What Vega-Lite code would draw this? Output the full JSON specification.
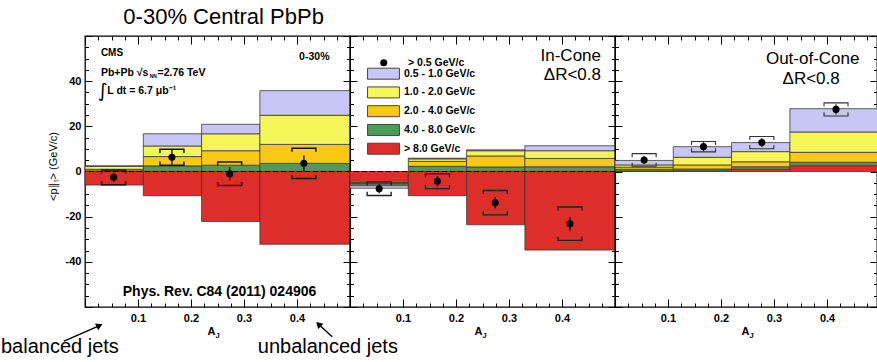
{
  "$schema": "https://vega.github.io/schema/vega-lite/v6.json",
  "background": "white",
  "padding": {"left": 0, "top": 6, "right": 0, "bottom": 0},
  "title": {"text": "0-30% Central PbPb", "anchor": "start", "frame": "bounds", "dx": 123, "offset": 0, "fontSize": 22, "fontWeight": "normal", "font": "Liberation Sans", "color": "black"},
  "config": {
    "font": "Liberation Sans",
    "view": {"stroke": "black", "strokeWidth": 1.3},
    "axis": {"domain": false, "grid": false, "tickColor": "black", "tickWidth": 1, "labelFont": "Liberation Sans", "labelFontSize": 11, "labelFontWeight": "bold", "labelColor": "black", "titleColor": "black", "labelOverlap": false, "labelFlush": false}
  },
  "datasets": {
    "hist": [
      {"panel": "all", "bin": 1, "lo": 0, "hi": 0.11, "comp": "> 8.0 GeV/c", "val": -6.0},
      {"panel": "all", "bin": 1, "lo": 0, "hi": 0.11, "comp": "4.0 - 8.0 GeV/c", "val": 0.3},
      {"panel": "all", "bin": 1, "lo": 0, "hi": 0.11, "comp": "2.0 - 4.0 GeV/c", "val": 0.7},
      {"panel": "all", "bin": 1, "lo": 0, "hi": 0.11, "comp": "1.0 - 2.0 GeV/c", "val": 1.3},
      {"panel": "all", "bin": 1, "lo": 0, "hi": 0.11, "comp": "0.5 - 1.0 GeV/c", "val": 0.2},
      {"panel": "all", "bin": 2, "lo": 0.11, "hi": 0.22, "comp": "> 8.0 GeV/c", "val": -10.7},
      {"panel": "all", "bin": 2, "lo": 0.11, "hi": 0.22, "comp": "4.0 - 8.0 GeV/c", "val": 2.5},
      {"panel": "all", "bin": 2, "lo": 0.11, "hi": 0.22, "comp": "2.0 - 4.0 GeV/c", "val": 4.1},
      {"panel": "all", "bin": 2, "lo": 0.11, "hi": 0.22, "comp": "1.0 - 2.0 GeV/c", "val": 4.7},
      {"panel": "all", "bin": 2, "lo": 0.11, "hi": 0.22, "comp": "0.5 - 1.0 GeV/c", "val": 5.4},
      {"panel": "all", "bin": 3, "lo": 0.22, "hi": 0.33, "comp": "> 8.0 GeV/c", "val": -22.1},
      {"panel": "all", "bin": 3, "lo": 0.22, "hi": 0.33, "comp": "4.0 - 8.0 GeV/c", "val": 2.8},
      {"panel": "all", "bin": 3, "lo": 0.22, "hi": 0.33, "comp": "2.0 - 4.0 GeV/c", "val": 6.4},
      {"panel": "all", "bin": 3, "lo": 0.22, "hi": 0.33, "comp": "1.0 - 2.0 GeV/c", "val": 7.5},
      {"panel": "all", "bin": 3, "lo": 0.22, "hi": 0.33, "comp": "0.5 - 1.0 GeV/c", "val": 4.2},
      {"panel": "all", "bin": 4, "lo": 0.33, "hi": 0.5, "comp": "> 8.0 GeV/c", "val": -32.2},
      {"panel": "all", "bin": 4, "lo": 0.33, "hi": 0.5, "comp": "4.0 - 8.0 GeV/c", "val": 3.6},
      {"panel": "all", "bin": 4, "lo": 0.33, "hi": 0.5, "comp": "2.0 - 4.0 GeV/c", "val": 8.4},
      {"panel": "all", "bin": 4, "lo": 0.33, "hi": 0.5, "comp": "1.0 - 2.0 GeV/c", "val": 12.9},
      {"panel": "all", "bin": 4, "lo": 0.33, "hi": 0.5, "comp": "0.5 - 1.0 GeV/c", "val": 10.9},
      {"panel": "in", "bin": 1, "lo": 0, "hi": 0.11, "comp": "> 8.0 GeV/c", "val": -5.0},
      {"panel": "in", "bin": 1, "lo": 0, "hi": 0.11, "comp": "4.0 - 8.0 GeV/c", "val": -0.4},
      {"panel": "in", "bin": 1, "lo": 0, "hi": 0.11, "comp": "2.0 - 4.0 GeV/c", "val": -0.3},
      {"panel": "in", "bin": 1, "lo": 0, "hi": 0.11, "comp": "1.0 - 2.0 GeV/c", "val": -0.6},
      {"panel": "in", "bin": 1, "lo": 0, "hi": 0.11, "comp": "0.5 - 1.0 GeV/c", "val": -1.1},
      {"panel": "in", "bin": 2, "lo": 0.11, "hi": 0.22, "comp": "> 8.0 GeV/c", "val": -10.7},
      {"panel": "in", "bin": 2, "lo": 0.11, "hi": 0.22, "comp": "4.0 - 8.0 GeV/c", "val": 2.3},
      {"panel": "in", "bin": 2, "lo": 0.11, "hi": 0.22, "comp": "2.0 - 4.0 GeV/c", "val": 2.2},
      {"panel": "in", "bin": 2, "lo": 0.11, "hi": 0.22, "comp": "1.0 - 2.0 GeV/c", "val": 1.1},
      {"panel": "in", "bin": 2, "lo": 0.11, "hi": 0.22, "comp": "0.5 - 1.0 GeV/c", "val": 0.3},
      {"panel": "in", "bin": 3, "lo": 0.22, "hi": 0.33, "comp": "> 8.0 GeV/c", "val": -23.6},
      {"panel": "in", "bin": 3, "lo": 0.22, "hi": 0.33, "comp": "4.0 - 8.0 GeV/c", "val": 2.0},
      {"panel": "in", "bin": 3, "lo": 0.22, "hi": 0.33, "comp": "2.0 - 4.0 GeV/c", "val": 4.9},
      {"panel": "in", "bin": 3, "lo": 0.22, "hi": 0.33, "comp": "1.0 - 2.0 GeV/c", "val": 2.3},
      {"panel": "in", "bin": 3, "lo": 0.22, "hi": 0.33, "comp": "0.5 - 1.0 GeV/c", "val": 0.4},
      {"panel": "in", "bin": 4, "lo": 0.33, "hi": 0.5, "comp": "> 8.0 GeV/c", "val": -34.8},
      {"panel": "in", "bin": 4, "lo": 0.33, "hi": 0.5, "comp": "4.0 - 8.0 GeV/c", "val": 2.1},
      {"panel": "in", "bin": 4, "lo": 0.33, "hi": 0.5, "comp": "2.0 - 4.0 GeV/c", "val": 3.7},
      {"panel": "in", "bin": 4, "lo": 0.33, "hi": 0.5, "comp": "1.0 - 2.0 GeV/c", "val": 3.4},
      {"panel": "in", "bin": 4, "lo": 0.33, "hi": 0.5, "comp": "0.5 - 1.0 GeV/c", "val": 2.2},
      {"panel": "out", "bin": 1, "lo": 0, "hi": 0.11, "comp": "> 8.0 GeV/c", "val": 0.2},
      {"panel": "out", "bin": 1, "lo": 0, "hi": 0.11, "comp": "4.0 - 8.0 GeV/c", "val": 0.8},
      {"panel": "out", "bin": 1, "lo": 0, "hi": 0.11, "comp": "2.0 - 4.0 GeV/c", "val": 0.9},
      {"panel": "out", "bin": 1, "lo": 0, "hi": 0.11, "comp": "1.0 - 2.0 GeV/c", "val": 1.0},
      {"panel": "out", "bin": 1, "lo": 0, "hi": 0.11, "comp": "0.5 - 1.0 GeV/c", "val": 2.0},
      {"panel": "out", "bin": 2, "lo": 0.11, "hi": 0.22, "comp": "> 8.0 GeV/c", "val": 0.3},
      {"panel": "out", "bin": 2, "lo": 0.11, "hi": 0.22, "comp": "4.0 - 8.0 GeV/c", "val": 0.8},
      {"panel": "out", "bin": 2, "lo": 0.11, "hi": 0.22, "comp": "2.0 - 4.0 GeV/c", "val": 1.8},
      {"panel": "out", "bin": 2, "lo": 0.11, "hi": 0.22, "comp": "1.0 - 2.0 GeV/c", "val": 3.4},
      {"panel": "out", "bin": 2, "lo": 0.11, "hi": 0.22, "comp": "0.5 - 1.0 GeV/c", "val": 4.7},
      {"panel": "out", "bin": 3, "lo": 0.22, "hi": 0.33, "comp": "> 8.0 GeV/c", "val": 1.0},
      {"panel": "out", "bin": 3, "lo": 0.22, "hi": 0.33, "comp": "4.0 - 8.0 GeV/c", "val": 1.1},
      {"panel": "out", "bin": 3, "lo": 0.22, "hi": 0.33, "comp": "2.0 - 4.0 GeV/c", "val": 2.2},
      {"panel": "out", "bin": 3, "lo": 0.22, "hi": 0.33, "comp": "1.0 - 2.0 GeV/c", "val": 4.5},
      {"panel": "out", "bin": 3, "lo": 0.22, "hi": 0.33, "comp": "0.5 - 1.0 GeV/c", "val": 4.0},
      {"panel": "out", "bin": 4, "lo": 0.33, "hi": 0.5, "comp": "> 8.0 GeV/c", "val": 2.6},
      {"panel": "out", "bin": 4, "lo": 0.33, "hi": 0.5, "comp": "4.0 - 8.0 GeV/c", "val": 1.5},
      {"panel": "out", "bin": 4, "lo": 0.33, "hi": 0.5, "comp": "2.0 - 4.0 GeV/c", "val": 4.4},
      {"panel": "out", "bin": 4, "lo": 0.33, "hi": 0.5, "comp": "1.0 - 2.0 GeV/c", "val": 9.0},
      {"panel": "out", "bin": 4, "lo": 0.33, "hi": 0.5, "comp": "0.5 - 1.0 GeV/c", "val": 10.3}
    ],
    "pts": [
      {"panel": "all", "aj": 0.054, "val": -2.6, "stat": 2.0, "syslo": -5.9, "syshi": 0.7},
      {"panel": "all", "aj": 0.164, "val": 6.3, "stat": 3.3, "syslo": 2.8, "syshi": 9.8},
      {"panel": "all", "aj": 0.273, "val": -1.0, "stat": 3.0, "syslo": -6.2, "syshi": 4.2},
      {"panel": "all", "aj": 0.413, "val": 3.6, "stat": 3.5, "syslo": -3.1, "syshi": 10.3},
      {"panel": "in", "aj": 0.055, "val": -7.6, "stat": 2.0, "syslo": -10.6, "syshi": -4.6},
      {"panel": "in", "aj": 0.165, "val": -4.3, "stat": 2.2, "syslo": -7.6, "syshi": -1.0},
      {"panel": "in", "aj": 0.274, "val": -13.8, "stat": 2.5, "syslo": -19.2, "syshi": -8.4},
      {"panel": "in", "aj": 0.415, "val": -23.1, "stat": 3.0, "syslo": -30.5, "syshi": -15.7},
      {"panel": "out", "aj": 0.055, "val": 5.1, "stat": 1.8, "syslo": 2.3, "syshi": 7.9},
      {"panel": "out", "aj": 0.167, "val": 11.0, "stat": 2.0, "syslo": 8.7, "syshi": 13.3},
      {"panel": "out", "aj": 0.277, "val": 12.8, "stat": 2.0, "syslo": 10.1, "syshi": 15.5},
      {"panel": "out", "aj": 0.417, "val": 27.5, "stat": 2.3, "syslo": 24.6, "syshi": 30.4}
    ]
  },
  "spacing": 0,
  "bounds": "flush",
  "resolve": {"scale": {"color": "independent", "shape": "independent"}},
  "hconcat": [
    {
      "width": 265,
      "height": 271,
      "resolve": {"axis": {"x": "independent", "y": "independent"}},
      "layer": [
        {
          "data": {"name": "hist"},
          "transform": [
            {"filter": "datum.panel == 'all'"},
            {"stack": "val", "groupby": ["bin"], "sort": [{"field": "comp", "order": "descending"}], "as": ["v0", "v1"]}
          ],
          "mark": {"type": "bar", "stroke": "#3a3a3a", "strokeWidth": 0.8},
          "encoding": {
            "x": {"field": "lo", "type": "quantitative", "scale": {"domain": [0, 0.5], "nice": false, "zero": false},
              "axis": {"orient": "bottom", "values": [0,0.025,0.05,0.075,0.1,0.125,0.15,0.175,0.2,0.225,0.25,0.275,0.3,0.325,0.35,0.375,0.4,0.425,0.45,0.475,0.5],
                "tickSize": {"condition": {"test": "abs(datum.value*10 - round(datum.value*10)) < 0.001", "value": -8}, "value": -4},
                "labelExpr": "(abs(datum.value*10 - round(datum.value*10)) < 0.001 && datum.value > 0.05 && datum.value < 0.45) ? format(datum.value, '.1f') : ''",
                "labelPadding": 13, "title": "A", "titleFontSize": 11, "titleFontWeight": "bold", "titleX": 126, "titleY": 24, "titleBaseline": "middle", "titleAlign": "center"}},
            "x2": {"field": "hi"},
            "y": {"field": "v0", "type": "quantitative", "scale": {"domain": [-60, 60], "nice": false, "zero": false},
              "axis": {"orient": "left", "values": [-60,-55,-50,-45,-40,-35,-30,-25,-20,-15,-10,-5,0,5,10,15,20,25,30,35,40,45,50,55,60],
                "tickSize": {"condition": {"test": "datum.value % 20 == 0", "value": -7}, "value": -3.5},
                "labelExpr": "(datum.value % 20 == 0 && abs(datum.value) < 60) ? '' + datum.value : ''",
                "labelPadding": 11, "title": "<p∥ₜ> (GeV/c)", "titleFontSize": 11, "titleFontWeight": "normal", "titleX": -32, "titleY": 130, "titleAngle": 270, "titleBaseline": "middle", "titleAlign": "center"}},
            "y2": {"field": "v1"},
            "color": {"field": "comp", "type": "nominal",
              "scale": {"domain": ["0.5 - 1.0 GeV/c", "1.0 - 2.0 GeV/c", "2.0 - 4.0 GeV/c", "4.0 - 8.0 GeV/c", "> 8.0 GeV/c"], "range": ["#c8c6f4", "#f6f65a", "#fbc814", "#4c9a5c", "#de2e29"]},
              "legend": null}
          }
        },
        {
          "data": {"values": [{}]},
          "mark": {"type": "rule", "color": "black", "strokeWidth": 1.2, "strokeDash": [5, 3]},
          "encoding": {"y": {"datum": 0, "type": "quantitative", "axis": null}}
        },
        {
          "data": {"name": "pts"},
          "transform": [{"filter": "datum.panel == 'all'"}],
          "mark": {"type": "errorbar", "color": "black", "thickness": 1.3},
          "encoding": {
            "x": {"field": "aj", "type": "quantitative", "axis": null},
            "y": {"field": "val", "type": "quantitative", "axis": null},
            "yError": {"field": "stat"}
          }
        },
        {
          "data": {"name": "pts"},
          "transform": [{"filter": "datum.panel == 'all'"}],
          "mark": {"type": "point", "filled": true, "size": 50, "color": "black", "opacity": 1},
          "encoding": {
            "x": {"field": "aj", "type": "quantitative", "scale": {"domain": [0, 0.5], "nice": false, "zero": false},
              "axis": {"orient": "top", "values": [0,0.025,0.05,0.075,0.1,0.125,0.15,0.175,0.2,0.225,0.25,0.275,0.3,0.325,0.35,0.375,0.4,0.425,0.45,0.475,0.5],
                "tickSize": {"condition": {"test": "abs(datum.value*10 - round(datum.value*10)) < 0.001", "value": -8}, "value": -4},
                "labels": false, "title": null}},
            "y": {"field": "val", "type": "quantitative", "scale": {"domain": [-60, 60], "nice": false, "zero": false},
              "axis": {"orient": "right", "values": [-60,-55,-50,-45,-40,-35,-30,-25,-20,-15,-10,-5,0,5,10,15,20,25,30,35,40,45,50,55,60],
                "tickSize": {"condition": {"test": "datum.value % 20 == 0", "value": -7}, "value": -3.5},
                "labels": false, "title": null}}
          }
        },
        {
          "data": {"name": "pts"},
          "transform": [{"filter": "datum.panel == 'all'"}],
          "mark": {"type": "point", "shape": "M-1,0.3V0H1V0.3", "filled": false, "size": 576, "color": "#111", "strokeWidth": 1.5, "opacity": 1},
          "encoding": {
            "x": {"field": "aj", "type": "quantitative", "axis": {"orient": "bottom", "ticks": false, "labels": false, "title": "J", "titleFontSize": 7.5, "titleFontWeight": "bold", "titleX": 132, "titleY": 28, "titleBaseline": "middle", "titleAlign": "center"}},
            "y": {"field": "syshi", "type": "quantitative", "axis": null}
          }
        },
        {
          "data": {"name": "pts"},
          "transform": [{"filter": "datum.panel == 'all'"}],
          "mark": {"type": "point", "shape": "M-1,-0.3V0H1V-0.3", "filled": false, "size": 576, "color": "#111", "strokeWidth": 1.5, "opacity": 1},
          "encoding": {
            "x": {"field": "aj", "type": "quantitative", "axis": null},
            "y": {"field": "syslo", "type": "quantitative", "axis": null}
          }
        },
        {
          "data": {"values": [{}]},
          "mark": {"type": "text", "text": "CMS", "align": "left", "baseline": "middle", "fontSize": 10, "fontWeight": "bold"},
          "encoding": {"x": {"datum": 0.03, "type": "quantitative", "axis": null}, "y": {"datum": 52.3, "type": "quantitative", "axis": null}}
        },
        {
          "data": {"values": [{}]},
          "mark": {"type": "text", "text": "0-30%", "align": "left", "baseline": "middle", "fontSize": 10.5, "fontWeight": "bold"},
          "encoding": {"x": {"datum": 0.404, "type": "quantitative", "axis": null}, "y": {"datum": 50.6, "type": "quantitative", "axis": null}}
        },
        {
          "data": {"values": [{}]},
          "mark": {"type": "text", "text": "Pb+Pb √s", "align": "left", "baseline": "middle", "fontSize": 10.5, "fontWeight": "bold"},
          "encoding": {"x": {"datum": 0.03, "type": "quantitative", "axis": null}, "y": {"datum": 43.75, "type": "quantitative", "axis": null}}
        },
        {
          "data": {"values": [{}]},
          "mark": {"type": "text", "text": "NN", "align": "left", "baseline": "middle", "fontSize": 5, "fontWeight": "bold", "dy": 3},
          "encoding": {"x": {"datum": 0.122, "type": "quantitative", "axis": null}, "y": {"datum": 43.75, "type": "quantitative", "axis": null}}
        },
        {
          "data": {"values": [{}]},
          "mark": {"type": "text", "text": "=2.76 TeV", "align": "left", "baseline": "middle", "fontSize": 10.5, "fontWeight": "bold"},
          "encoding": {"x": {"datum": 0.1368, "type": "quantitative", "axis": null}, "y": {"datum": 43.75, "type": "quantitative", "axis": null}}
        },
        {
          "data": {"values": [{}]},
          "mark": {"type": "text", "text": "∫", "align": "left", "baseline": "middle", "fontSize": 19, "font": "DejaVu Sans"},
          "encoding": {"x": {"datum": 0.024, "type": "quantitative", "axis": null}, "y": {"datum": 35.8, "type": "quantitative", "axis": null}}
        },
        {
          "data": {"values": [{}]},
          "mark": {"type": "text", "text": "L dt = 6.7 μb⁻¹", "align": "left", "baseline": "middle", "fontSize": 10.5, "fontWeight": "bold"},
          "encoding": {"x": {"datum": 0.042, "type": "quantitative", "axis": null}, "y": {"datum": 35.8, "type": "quantitative", "axis": null}}
        },
        {
          "data": {"values": [{}]},
          "mark": {"type": "text", "text": "Phys. Rev. C84 (2011) 024906", "align": "center", "baseline": "middle", "fontSize": 14, "fontWeight": "bold"},
          "encoding": {"x": {"datum": 0.2538, "type": "quantitative", "axis": null}, "y": {"datum": -53.2, "type": "quantitative", "axis": null}}
        },
        {
          "data": {"values": [{}]},
          "mark": {"type": "text", "text": "balanced jets", "align": "left", "baseline": "alphabetic", "fontSize": 20},
          "encoding": {"x": {"datum": -0.1585, "type": "quantitative", "axis": null}, "y": {"datum": -80.5, "type": "quantitative", "axis": null}}
        },
        {
          "data": {"values": [{}]},
          "mark": {"type": "text", "text": "unbalanced jets", "align": "left", "baseline": "alphabetic", "fontSize": 20},
          "encoding": {"x": {"datum": 0.326, "type": "quantitative", "axis": null}, "y": {"datum": -80.5, "type": "quantitative", "axis": null}}
        },
        {
          "data": {"values": [{}]},
          "mark": {"type": "rule", "color": "black", "strokeWidth": 1.4},
          "encoding": {"x": {"datum": -0.0396, "type": "quantitative", "axis": null}, "y": {"datum": -75.1, "type": "quantitative", "axis": null}, "x2": {"datum": 0.0274}, "y2": {"datum": -68.2}}
        },
        {
          "data": {"values": [{}]},
          "mark": {"type": "point", "shape": "triangle-up", "filled": true, "size": 55, "color": "black", "opacity": 1, "angle": 66},
          "encoding": {"x": {"datum": 0.0274, "type": "quantitative", "axis": null}, "y": {"datum": -68.2, "type": "quantitative", "axis": null}}
        },
        {
          "data": {"values": [{}]},
          "mark": {"type": "rule", "color": "black", "strokeWidth": 1.4},
          "encoding": {"x": {"datum": 0.4664, "type": "quantitative", "axis": null}, "y": {"datum": -73.2, "type": "quantitative", "axis": null}, "x2": {"datum": 0.4406}, "y2": {"datum": -67.6}}
        },
        {
          "data": {"values": [{}]},
          "mark": {"type": "point", "shape": "triangle-up", "filled": true, "size": 55, "color": "black", "opacity": 1, "angle": 315},
          "encoding": {"x": {"datum": 0.4406, "type": "quantitative", "axis": null}, "y": {"datum": -67.6, "type": "quantitative", "axis": null}}
        }
      ]
    },
    {
      "width": 265,
      "height": 271,
      "resolve": {"axis": {"x": "independent", "y": "independent"}},
      "layer": [
        {
          "data": {"name": "hist"},
          "transform": [
            {"filter": "datum.panel == 'in'"},
            {"stack": "val", "groupby": ["bin"], "sort": [{"field": "comp", "order": "descending"}], "as": ["v0", "v1"]}
          ],
          "mark": {"type": "bar", "stroke": "#3a3a3a", "strokeWidth": 0.8},
          "encoding": {
            "x": {"field": "lo", "type": "quantitative", "scale": {"domain": [0, 0.5], "nice": false, "zero": false},
              "axis": {"orient": "bottom", "values": [0,0.025,0.05,0.075,0.1,0.125,0.15,0.175,0.2,0.225,0.25,0.275,0.3,0.325,0.35,0.375,0.4,0.425,0.45,0.475,0.5],
                "tickSize": {"condition": {"test": "abs(datum.value*10 - round(datum.value*10)) < 0.001", "value": -8}, "value": -4},
                "labelExpr": "(abs(datum.value*10 - round(datum.value*10)) < 0.001 && datum.value > 0.05 && datum.value < 0.45) ? format(datum.value, '.1f') : ''",
                "labelPadding": 13, "title": "A", "titleFontSize": 11, "titleFontWeight": "bold", "titleX": 128, "titleY": 24, "titleBaseline": "middle", "titleAlign": "center"}},
            "x2": {"field": "hi"},
            "y": {"field": "v0", "type": "quantitative", "scale": {"domain": [-60, 60], "nice": false, "zero": false},
              "axis": {"orient": "left", "values": [-60,-55,-50,-45,-40,-35,-30,-25,-20,-15,-10,-5,0,5,10,15,20,25,30,35,40,45,50,55,60],
                "tickSize": {"condition": {"test": "datum.value % 20 == 0", "value": -7}, "value": -3.5},
                "labels": false, "title": null}},
            "y2": {"field": "v1"},
            "color": {"field": "comp", "type": "nominal",
              "scale": {"domain": ["0.5 - 1.0 GeV/c", "1.0 - 2.0 GeV/c", "2.0 - 4.0 GeV/c", "4.0 - 8.0 GeV/c", "> 8.0 GeV/c"], "range": ["#c8c6f4", "#f6f65a", "#fbc814", "#4c9a5c", "#de2e29"]},
              "legend": {"orient": "none", "legendX": 27.5, "legendY": 31.7, "title": null, "padding": 0,
                "symbolType": "M-2.9,-1H2.9V1H-2.9Z", "symbolSize": 121, "symbolStrokeColor": "#444", "symbolStrokeWidth": 1, "symbolOpacity": 1,
                "labelFont": "Liberation Sans", "labelFontSize": 10.5, "labelFontWeight": "bold", "labelColor": "black", "labelOffset": 14.5, "rowPadding": 2.75}}
          }
        },
        {
          "data": {"values": [{}]},
          "mark": {"type": "rule", "color": "black", "strokeWidth": 1.2, "strokeDash": [5, 3]},
          "encoding": {"y": {"datum": 0, "type": "quantitative", "axis": null}}
        },
        {
          "data": {"name": "pts"},
          "transform": [{"filter": "datum.panel == 'in'"}],
          "mark": {"type": "errorbar", "color": "black", "thickness": 1.3},
          "encoding": {
            "x": {"field": "aj", "type": "quantitative", "axis": null},
            "y": {"field": "val", "type": "quantitative", "axis": null},
            "yError": {"field": "stat"}
          }
        },
        {
          "data": {"name": "pts"},
          "transform": [{"filter": "datum.panel == 'in'"}],
          "mark": {"type": "point", "filled": true, "size": 50, "color": "black", "opacity": 1},
          "encoding": {
            "x": {"field": "aj", "type": "quantitative", "scale": {"domain": [0, 0.5], "nice": false, "zero": false},
              "axis": {"orient": "top", "values": [0,0.025,0.05,0.075,0.1,0.125,0.15,0.175,0.2,0.225,0.25,0.275,0.3,0.325,0.35,0.375,0.4,0.425,0.45,0.475,0.5],
                "tickSize": {"condition": {"test": "abs(datum.value*10 - round(datum.value*10)) < 0.001", "value": -8}, "value": -4},
                "labels": false, "title": null}},
            "y": {"field": "val", "type": "quantitative", "scale": {"domain": [-60, 60], "nice": false, "zero": false},
              "axis": {"orient": "right", "values": [-60,-55,-50,-45,-40,-35,-30,-25,-20,-15,-10,-5,0,5,10,15,20,25,30,35,40,45,50,55,60],
                "tickSize": {"condition": {"test": "datum.value % 20 == 0", "value": -7}, "value": -3.5},
                "labels": false, "title": null}},
            "shape": {"datum": "> 0.5 GeV/c", "scale": {"range": ["circle"]},
              "legend": {"orient": "none", "legendX": 28.5, "legendY": 21.5, "title": null, "padding": 0,
                "symbolSize": 50, "symbolFillColor": "black", "symbolStrokeColor": "black", "symbolStrokeWidth": 0, "symbolOpacity": 1,
                "labelFont": "Liberation Sans", "labelFontSize": 10.5, "labelFontWeight": "bold", "labelColor": "black", "labelOffset": 19}}
          }
        },
        {
          "data": {"name": "pts"},
          "transform": [{"filter": "datum.panel == 'in'"}],
          "mark": {"type": "point", "shape": "M-1,0.3V0H1V0.3", "filled": false, "size": 576, "color": "#222", "strokeWidth": 1.4, "opacity": 1},
          "encoding": {
            "x": {"field": "aj", "type": "quantitative", "axis": {"orient": "bottom", "ticks": false, "labels": false, "title": "J", "titleFontSize": 7.5, "titleFontWeight": "bold", "titleX": 134, "titleY": 28, "titleBaseline": "middle", "titleAlign": "center"}},
            "y": {"field": "syshi", "type": "quantitative", "axis": null}
          }
        },
        {
          "data": {"name": "pts"},
          "transform": [{"filter": "datum.panel == 'in'"}],
          "mark": {"type": "point", "shape": "M-1,-0.3V0H1V-0.3", "filled": false, "size": 576, "color": "#222", "strokeWidth": 1.4, "opacity": 1},
          "encoding": {
            "x": {"field": "aj", "type": "quantitative", "axis": null},
            "y": {"field": "syslo", "type": "quantitative", "axis": null}
          }
        },
        {
          "data": {"values": [{}]},
          "mark": {"type": "text", "text": "In-Cone", "align": "right", "baseline": "middle", "fontSize": 17},
          "encoding": {"x": {"datum": 0.4736, "type": "quantitative", "axis": null}, "y": {"datum": 51.15, "type": "quantitative", "axis": null}}
        },
        {
          "data": {"values": [{}]},
          "mark": {"type": "text", "text": "ΔR<0.8", "align": "right", "baseline": "middle", "fontSize": 17},
          "encoding": {"x": {"datum": 0.4736, "type": "quantitative", "axis": null}, "y": {"datum": 42.7, "type": "quantitative", "axis": null}}
        }
      ]
    },
    {
      "width": 262,
      "height": 271,
      "resolve": {"axis": {"x": "independent", "y": "independent"}},
      "layer": [
        {
          "data": {"name": "hist"},
          "transform": [
            {"filter": "datum.panel == 'out'"},
            {"stack": "val", "groupby": ["bin"], "sort": [{"field": "comp", "order": "descending"}], "as": ["v0", "v1"]}
          ],
          "mark": {"type": "bar", "stroke": "#3a3a3a", "strokeWidth": 0.8, "clip": true},
          "encoding": {
            "x": {"field": "lo", "type": "quantitative", "scale": {"domain": [0, 0.4943], "nice": false, "zero": false},
              "axis": {"orient": "bottom", "values": [0,0.025,0.05,0.075,0.1,0.125,0.15,0.175,0.2,0.225,0.25,0.275,0.3,0.325,0.35,0.375,0.4,0.425,0.45,0.475],
                "tickSize": {"condition": {"test": "abs(datum.value*10 - round(datum.value*10)) < 0.001", "value": -8}, "value": -4},
                "labelExpr": "(abs(datum.value*10 - round(datum.value*10)) < 0.001 && datum.value > 0.05 && datum.value < 0.45) ? format(datum.value, '.1f') : ''",
                "labelPadding": 13, "title": "A", "titleFontSize": 11, "titleFontWeight": "bold", "titleX": 130, "titleY": 24, "titleBaseline": "middle", "titleAlign": "center"}},
            "x2": {"field": "hi"},
            "y": {"field": "v0", "type": "quantitative", "scale": {"domain": [-60, 60], "nice": false, "zero": false},
              "axis": {"orient": "left", "values": [-60,-55,-50,-45,-40,-35,-30,-25,-20,-15,-10,-5,0,5,10,15,20,25,30,35,40,45,50,55,60],
                "tickSize": {"condition": {"test": "datum.value % 20 == 0", "value": -7}, "value": -3.5},
                "labels": false, "title": null}},
            "y2": {"field": "v1"},
            "color": {"field": "comp", "type": "nominal",
              "scale": {"domain": ["0.5 - 1.0 GeV/c", "1.0 - 2.0 GeV/c", "2.0 - 4.0 GeV/c", "4.0 - 8.0 GeV/c", "> 8.0 GeV/c"], "range": ["#c8c6f4", "#f6f65a", "#fbc814", "#4c9a5c", "#de2e29"]},
              "legend": null}
          }
        },
        {
          "data": {"name": "pts"},
          "transform": [{"filter": "datum.panel == 'out'"}],
          "mark": {"type": "errorbar", "color": "#111", "thickness": 1.1},
          "encoding": {
            "x": {"field": "aj", "type": "quantitative", "axis": null},
            "y": {"field": "val", "type": "quantitative", "axis": null},
            "yError": {"field": "stat"}
          }
        },
        {
          "data": {"name": "pts"},
          "transform": [{"filter": "datum.panel == 'out'"}],
          "mark": {"type": "point", "filled": true, "size": 50, "color": "black", "opacity": 1},
          "encoding": {
            "x": {"field": "aj", "type": "quantitative", "scale": {"domain": [0, 0.4943], "nice": false, "zero": false},
              "axis": {"orient": "top", "values": [0,0.025,0.05,0.075,0.1,0.125,0.15,0.175,0.2,0.225,0.25,0.275,0.3,0.325,0.35,0.375,0.4,0.425,0.45,0.475],
                "tickSize": {"condition": {"test": "abs(datum.value*10 - round(datum.value*10)) < 0.001", "value": -8}, "value": -4},
                "labels": false, "title": null}},
            "y": {"field": "val", "type": "quantitative", "scale": {"domain": [-60, 60], "nice": false, "zero": false},
              "axis": {"orient": "right", "values": [-60,-55,-50,-45,-40,-35,-30,-25,-20,-15,-10,-5,0,5,10,15,20,25,30,35,40,45,50,55,60],
                "tickSize": {"condition": {"test": "datum.value % 20 == 0", "value": -7}, "value": -3.5},
                "labels": false, "title": null}}
          }
        },
        {
          "data": {"name": "pts"},
          "transform": [{"filter": "datum.panel == 'out'"}],
          "mark": {"type": "point", "shape": "M-1,0.3V0H1V0.3", "filled": false, "size": 576, "color": "#333", "strokeWidth": 1.1, "opacity": 1},
          "encoding": {
            "x": {"field": "aj", "type": "quantitative", "axis": {"orient": "bottom", "ticks": false, "labels": false, "title": "J", "titleFontSize": 7.5, "titleFontWeight": "bold", "titleX": 136, "titleY": 28, "titleBaseline": "middle", "titleAlign": "center"}},
            "y": {"field": "syshi", "type": "quantitative", "axis": null}
          }
        },
        {
          "data": {"name": "pts"},
          "transform": [{"filter": "datum.panel == 'out'"}],
          "mark": {"type": "point", "shape": "M-1,-0.3V0H1V-0.3", "filled": false, "size": 576, "color": "#333", "strokeWidth": 1.1, "opacity": 1},
          "encoding": {
            "x": {"field": "aj", "type": "quantitative", "axis": null},
            "y": {"field": "syslo", "type": "quantitative", "axis": null}
          }
        },
        {
          "data": {"values": [{}]},
          "mark": {"type": "text", "text": "Out-of-Cone", "align": "center", "baseline": "middle", "fontSize": 17},
          "encoding": {"x": {"datum": 0.373, "type": "quantitative", "axis": null}, "y": {"datum": 49.7, "type": "quantitative", "axis": null}}
        },
        {
          "data": {"values": [{}]},
          "mark": {"type": "text", "text": "ΔR<0.8", "align": "center", "baseline": "middle", "fontSize": 17},
          "encoding": {"x": {"datum": 0.37, "type": "quantitative", "axis": null}, "y": {"datum": 40.8, "type": "quantitative", "axis": null}}
        }
      ]
    }
  ]
}
